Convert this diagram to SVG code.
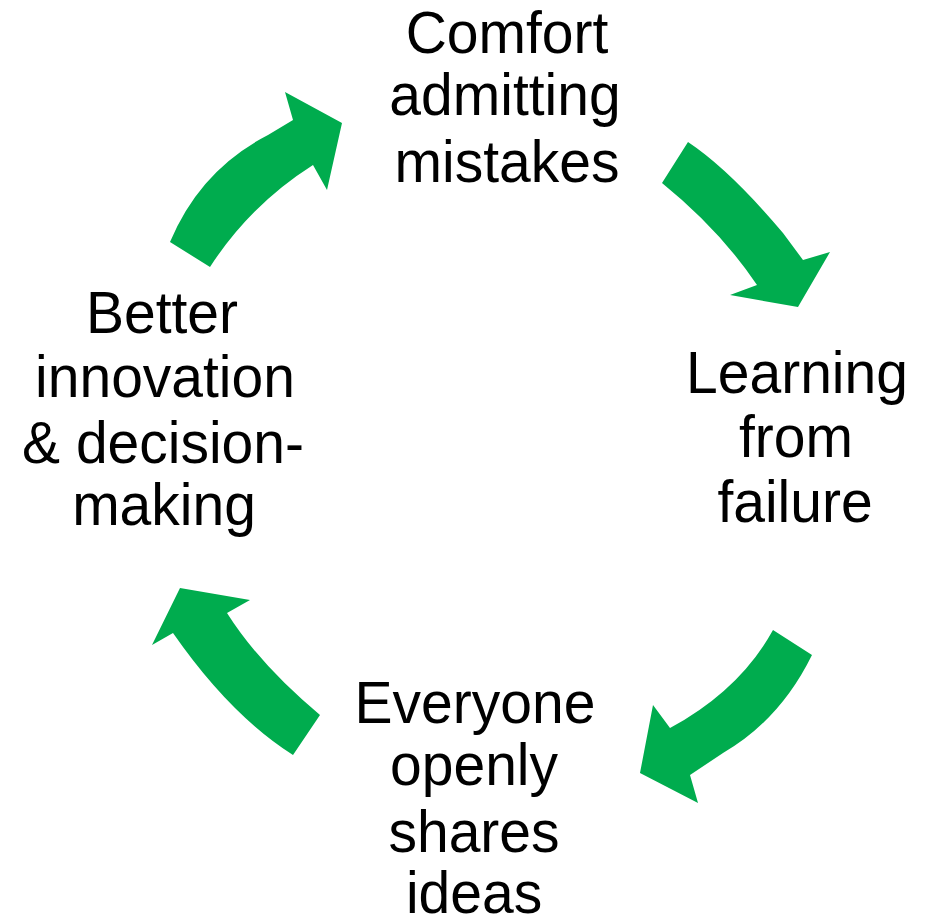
<svg xmlns="http://www.w3.org/2000/svg" width="925" height="919" viewBox="0 0 925 919">
<style>
.t{font-family:"Liberation Sans",Arial,sans-serif;font-size:57px;fill:#000;text-anchor:middle}
.a{fill:#00AC4E}
</style>
<rect width="925" height="919" fill="#fff"/>
<g id="connectors">
<path class="a" d="M170,242 Q200,170 268,135 L293,120 L285,92 L342,123 L327,190 L313,165 Q250,205 210,267 Z"/>
<path class="a" d="M688,142 Q730,170 783,233 L803,260 L830,252 L798,307 L730,295 L757,285 Q720,230 662,183 Z"/>
<path class="a" d="M812,655 Q780,720 723,753 L690,775 L698,803 L640,773 L653,705 L670,728 Q740,690 773,630 Z"/>
<path class="a" d="M320,715 Q260,665 227,613 L250,600 L180,588 L152,645 L173,633 Q230,715 293,755 Z"/>
</g>
<g id="node-comfort">
<text class="t" transform="translate(507,53) scale(1,1.05)">Comfort</text>
<text class="t" transform="translate(505,115) scale(1,1.05)">admitting</text>
<text class="t" transform="translate(507,182) scale(1,1.05)">mistakes</text>
</g>
<g id="node-learning">
<text class="t" transform="translate(797,393) scale(1,1.05)">Learning</text>
<text class="t" transform="translate(796,457) scale(1,1.05)">from</text>
<text class="t" transform="translate(795,522) scale(1,1.05)">failure</text>
</g>
<g id="node-everyone">
<text class="t" transform="translate(475,723) scale(1,1.05)">Everyone</text>
<text class="t" transform="translate(474,785) scale(1,1.05)">openly</text>
<text class="t" transform="translate(474,852) scale(1,1.05)">shares</text>
<text class="t" transform="translate(474,913) scale(1,1.05)">ideas</text>
</g>
<g id="node-better">
<text class="t" transform="translate(162,333) scale(1,1.05)">Better</text>
<text class="t" transform="translate(165,397) scale(1,1.05)">innovation</text>
<text class="t" transform="translate(163,463) scale(1,1.05)">&amp; decision-</text>
<text class="t" transform="translate(164,525) scale(1,1.05)">making</text>
</g>
</svg>
